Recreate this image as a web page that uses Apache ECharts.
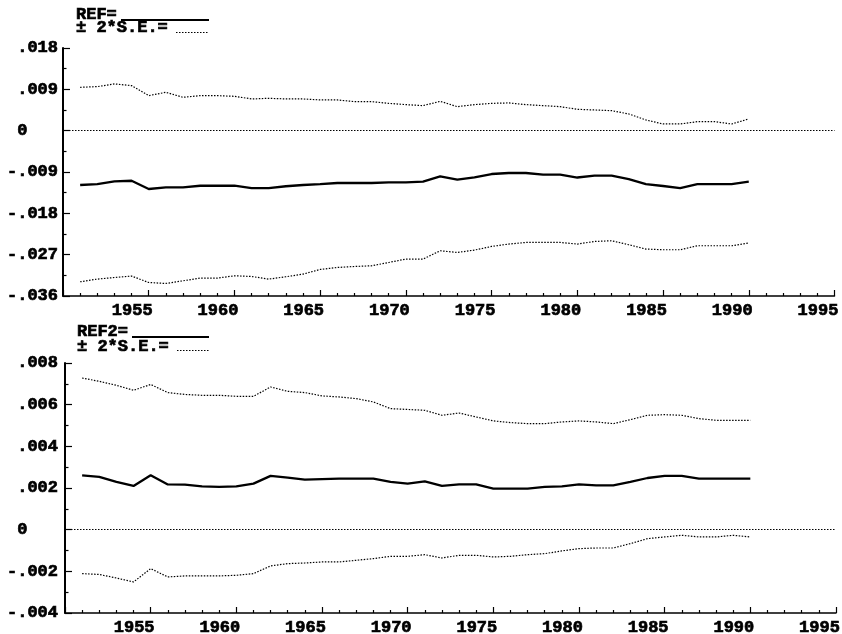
<!DOCTYPE html>
<html>
<head>
<meta charset="utf-8">
<script src="https://cdn.jsdelivr.net/npm/echarts@6/dist/echarts.min.js"></script>
<style>
  html, body { margin: 0; padding: 0; background: #fff; }
  #chart { width: 842px; height: 634px; }
</style>
</head>
<body>
<div id="chart"></div>
<script>
// Years of the estimates (annual, 1951-1990)
const years = [1951, 1952, 1953, 1954, 1955, 1956, 1957, 1958, 1959, 1960,
               1961, 1962, 1963, 1964, 1965, 1966, 1967, 1968, 1969, 1970,
               1971, 1972, 1973, 1974, 1975, 1976, 1977, 1978, 1979, 1980,
               1981, 1982, 1983, 1984, 1985, 1986, 1987, 1988, 1989, 1990];

// Upper panel: REF with its +/- 2 standard-error band
const refTop = [-0.01183, -0.01162, -0.01105, -0.01090, -0.01270, -0.01236, -0.01236, -0.01199, -0.01199, -0.01199,
                -0.01249, -0.01249, -0.01210, -0.01183, -0.01162, -0.01140, -0.01140, -0.01140, -0.01127, -0.01127,
                -0.01111, -0.00996, -0.01068, -0.01018, -0.00944, -0.00922, -0.00922, -0.00959, -0.00959, -0.01020,
                -0.00981, -0.00981, -0.01053, -0.01162, -0.01205, -0.01249, -0.01162, -0.01162, -0.01162, -0.01111];
const upperTop = [0.00944, 0.00959, 0.01018, 0.00981, 0.00763, 0.00835, 0.00726, 0.00763, 0.00763, 0.00748,
                  0.00691, 0.00704, 0.00691, 0.00691, 0.00669, 0.00669, 0.00632, 0.00632, 0.00595, 0.00567,
                  0.00545, 0.00639, 0.00523, 0.00567, 0.00595, 0.00604, 0.00567, 0.00545, 0.00523, 0.00464,
                  0.00451, 0.00436, 0.00364, 0.00233, 0.00146, 0.00146, 0.00196, 0.00196, 0.00146, 0.00255];
const lowerTop = [-0.03290, -0.03232, -0.03197, -0.03166, -0.03306, -0.03327, -0.03269, -0.03210, -0.03210, -0.03160,
                  -0.03175, -0.03232, -0.03181, -0.03123, -0.03022, -0.02979, -0.02957, -0.02942, -0.02870, -0.02796,
                  -0.02796, -0.02615, -0.02652, -0.02600, -0.02521, -0.02469, -0.02434, -0.02434, -0.02434, -0.02469,
                  -0.02412, -0.02397, -0.02484, -0.02578, -0.02593, -0.02593, -0.02506, -0.02506, -0.02506, -0.02447];

// Lower panel: REF2 with its +/- 2 standard-error band
const refBottom = [0.00261, 0.00253, 0.00229, 0.00210, 0.00261, 0.00217, 0.00216, 0.00208, 0.00205, 0.00208,
                   0.00221, 0.00258, 0.00250, 0.00240, 0.00243, 0.00245, 0.00245, 0.00245, 0.00229, 0.00221,
                   0.00232, 0.00210, 0.00217, 0.00217, 0.00197, 0.00197, 0.00197, 0.00205, 0.00208, 0.00217,
                   0.00213, 0.00213, 0.00229, 0.00248, 0.00258, 0.00258, 0.00245, 0.00245, 0.00245, 0.00245];
const upperBottom = [0.00728, 0.00712, 0.00693, 0.00669, 0.00697, 0.00658, 0.00649, 0.00645, 0.00645, 0.00640,
                     0.00640, 0.00685, 0.00664, 0.00658, 0.00642, 0.00637, 0.00629, 0.00613, 0.00581, 0.00577,
                     0.00573, 0.00549, 0.00560, 0.00541, 0.00522, 0.00514, 0.00509, 0.00509, 0.00517, 0.00522,
                     0.00517, 0.00509, 0.00528, 0.00549, 0.00552, 0.00549, 0.00533, 0.00525, 0.00525, 0.00525];
const lowerBottom = [-0.00211, -0.00215, -0.00232, -0.00251, -0.00187, -0.00227, -0.00222, -0.00222, -0.00222, -0.00219,
                     -0.00211, -0.00174, -0.00163, -0.00160, -0.00155, -0.00155, -0.00147, -0.00139, -0.00128, -0.00128,
                     -0.00120, -0.00136, -0.00123, -0.00123, -0.00131, -0.00128, -0.00120, -0.00115, -0.00102, -0.00091,
                     -0.00088, -0.00088, -0.00067, -0.00043, -0.00035, -0.00027, -0.00035, -0.00035, -0.00027, -0.00035];

// Axis ranges: [min, max, interval]
const xRange = [1950, 1995, 5];
const yRangeTop = [-0.036, 0.018, 0.009];
const yRangeBottom = [-0.004, 0.008, 0.002];

// Legend captions
const topCaption = ['REF=', '\u00b1 2*S.E.='];
const bottomCaption = ['REF2=', '\u00b1 2*S.E.='];

const FONT_FAMILY = '"Liberation Mono", "DejaVu Sans Mono", monospace';
const FONT_SIZE = 17;
const CELL = FONT_SIZE * 0.6;
const INK = '#000';
const DOTS = [1.5, 1.5];

const pairs = (vals) => years.map((y, i) => [y, vals[i]]);

// Tick label: ".018", "-.009", "0"; non-negative values keep an empty sign column
function yLabel(v) {
  if (Math.abs(v) < 1e-10) return '{pos|0}';
  const body = Math.abs(v).toFixed(3).replace(/^0/, '');
  return v < 0 ? '{neg|-' + body + '}' : '{pos|' + body + '}';
}

// Heavy, blocky lettering: bold face plus a thin outline in the same ink
const labelText = {
  fontFamily: FONT_FAMILY, fontSize: FONT_SIZE, fontWeight: 'bold', color: INK,
  textBorderColor: INK, textBorderWidth: 0.7
};

function xAxisFor(gridIndex) {
  return {
    type: 'value', gridIndex,
    min: xRange[0], max: xRange[1], interval: xRange[2],
    axisLine: { show: true, onZero: false, lineStyle: { color: INK, width: 1.5 } },
    axisTick: { show: true, inside: true, length: 6, lineStyle: { color: INK, width: 1.2 } },
    minorTick: { show: true, splitNumber: 5, length: 3, lineStyle: { color: INK, width: 1.2 } },
    splitLine: { show: false },
    axisLabel: Object.assign({
      margin: 6,
      padding: [0, 33, 0, 0],
      formatter: (v) => (v === xRange[0] ? '' : String(v))
    }, labelText)
  };
}

function yAxisFor(gridIndex, range, margin) {
  return {
    type: 'value', gridIndex,
    min: range[0], max: range[1], interval: range[2],
    axisLine: { show: true, onZero: false, lineStyle: { color: INK, width: 2 } },
    axisTick: { show: true, inside: true, length: 7, lineStyle: { color: INK, width: 1.2 } },
    minorTick: { show: true, splitNumber: 2, length: 3.5, lineStyle: { color: INK, width: 1.2 } },
    splitLine: { show: false },
    axisLabel: Object.assign({
      margin: margin,
      align: 'left',
      formatter: yLabel,
      rich: {
        pos: Object.assign({ padding: [0, 0, 0, CELL] }, labelText),
        neg: Object.assign({}, labelText)
      }
    }, labelText)
  };
}

const solid = { color: INK, width: 2.3, type: 'solid' };
const dotted = { color: INK, width: 1.2, type: DOTS };

function bandSeries(idx, vals, withZero) {
  const s = {
    type: 'line', xAxisIndex: idx, yAxisIndex: idx,
    data: pairs(vals), showSymbol: false, symbol: 'none',
    lineStyle: dotted, silent: true
  };
  if (withZero) {
    s.markLine = {
      silent: true, symbol: 'none', label: { show: false },
      lineStyle: { color: INK, width: 1.2, type: DOTS },
      data: [{ yAxis: 0 }]
    };
  }
  return s;
}

function mainSeries(idx, vals) {
  return {
    type: 'line', xAxisIndex: idx, yAxisIndex: idx,
    data: pairs(vals), showSymbol: false, symbol: 'none',
    lineStyle: solid, silent: true
  };
}

// Caption block: text rows with a line sample after each
function caption(x, rows, rowY, sampleY, sampleX0, sampleX1) {
  const els = [];
  rows.forEach((t, i) => {
    els.push({
      type: 'text', silent: true,
      style: {
        x: x, y: rowY[i], text: t,
        font: 'bold ' + FONT_SIZE + 'px ' + FONT_FAMILY,
        fill: INK, stroke: INK, lineWidth: 0.7,
        verticalAlign: 'middle', align: 'left'
      }
    });
    els.push({
      type: 'line', silent: true,
      shape: { x1: sampleX0[i], y1: sampleY[i], x2: sampleX1, y2: sampleY[i] },
      style: i === 0 ? { stroke: INK, lineWidth: 2 } : { stroke: INK, lineWidth: 1.2, lineDash: DOTS }
    });
  });
  return els;
}

const chart = echarts.init(document.getElementById('chart'), null, { renderer: 'canvas' });
chart.setOption({
  animation: false,
  backgroundColor: '#fff',
  grid: [
    { left: 63, top: 48, width: 771.5, height: 248, outerBoundsMode: 'none' },
    { left: 65, top: 363, width: 771, height: 250, outerBoundsMode: 'none' }
  ],
  xAxis: [xAxisFor(0), xAxisFor(1)],
  yAxis: [yAxisFor(0, yRangeTop, 56), yAxisFor(1, yRangeBottom, 58)],
  series: [
    bandSeries(0, upperTop, true),
    bandSeries(0, lowerTop, false),
    mainSeries(0, refTop),
    bandSeries(1, upperBottom, true),
    bandSeries(1, lowerBottom, false),
    mainSeries(1, refBottom)
  ],
  graphic: [].concat(
    caption(76, topCaption, [14.5, 28], [20, 32.5], [121, 176], 209),
    caption(77, bottomCaption, [332, 346.5], [337, 350.5], [132, 177], 209)
  )
});
</script>
</body>
</html>
